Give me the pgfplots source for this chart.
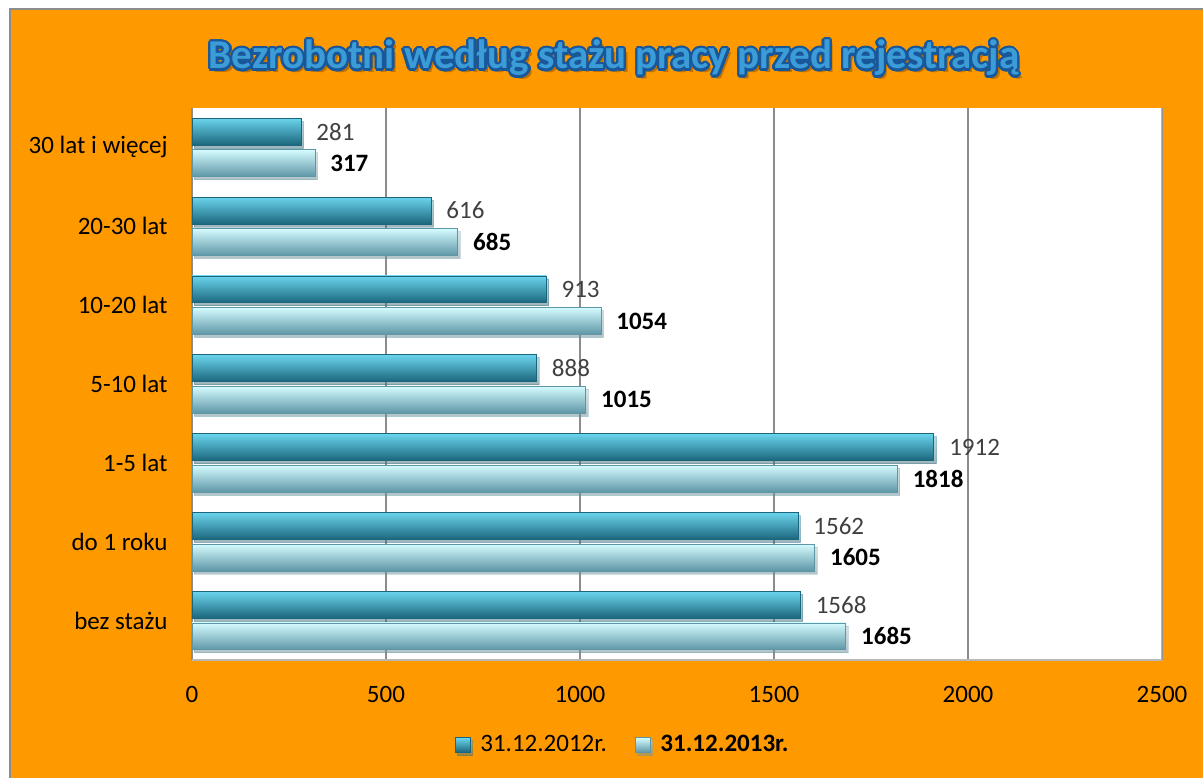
\documentclass[border=0pt]{standalone}
\usepackage{pgfplots}
\pgfplotsset{compat=1.18}
\usetikzlibrary{backgrounds,shadows}
\usepackage{fontspec}
\setmainfont{Carlito}
\definecolor{bgorange}{HTML}{FF9900}
\definecolor{frame}{HTML}{8C8C8C}
\definecolor{titlefill}{HTML}{3C9CD8}
\definecolor{titleline}{HTML}{17579A}
\definecolor{darktop}{HTML}{6AD4EC}
\definecolor{darkmid}{HTML}{2C92AC}
\definecolor{darkbot}{HTML}{1B667C}
\definecolor{lighttop}{HTML}{D4FBFF}
\definecolor{lightmid}{HTML}{A6D9E6}
\definecolor{lightbot}{HTML}{5E96A6}
\definecolor{lbl}{HTML}{404040}
\pgfplotsset{
  darkbar/.style={draw=darkbot, line width=0.4pt, top color=darktop, middle color=darkmid, bottom color=darkbot, bar shift=0.2,
    drop shadow={shadow xshift=1.2pt, shadow yshift=-1.5pt, opacity=0.3},
    nodes near coords style={text=lbl, font=\fontsize{12.5}{14}\selectfont}},
  lightbar/.style={draw=lightbot, line width=0.4pt, top color=lighttop, middle color=lightmid, bottom color=lightbot, bar shift=-0.2,
    drop shadow={shadow xshift=1.2pt, shadow yshift=-1.5pt, opacity=0.3},
    nodes near coords style={text=black, font=\fontsize{12.5}{14}\selectfont\bfseries}},
}
\begin{document}
\begin{tikzpicture}
\begin{axis}[
  scale only axis, width=485pt, height=276pt,
  xbar, bar width=0.34,
  xmin=0, xmax=2500, ymin=-0.5, ymax=6.5,
  xtick={0,500,...,2500},
  ytick={0,...,6},
  yticklabels={bez stażu,do 1 roku,1-5 lat,5-10 lat,10-20 lat,20-30 lat,30 lat i więcej},
  xmajorgrids, major grid style={draw=black!45, line width=0.6pt},
  axis background/.style={fill=white},
  axis line style={draw=none},
  major tick length=0pt,
  tick label style={font=\fontsize{12.5}{14}\selectfont, text=black},
  /pgf/number format/assume math mode=true,
  /pgf/number format/.cd, fixed, precision=0, 1000 sep={},
  /pgfplots/.cd,
  yticklabel style={anchor=east, inner sep=0pt, xshift=-12pt},
  xticklabel style={anchor=north, inner sep=0pt, yshift=-13pt},
  nodes near coords,
  nodes near coords align={horizontal},
  every node near coord/.append style={anchor=west, inner sep=0pt, xshift=7.5pt},
  legend style={at={(0.445,-0.154)}, anchor=center, draw=none, fill=none,
    legend columns=2, font=\fontsize{12.5}{14}\selectfont,
    /tikz/every odd column/.append style={column sep=3pt},
    /tikz/every even column/.append style={column sep=12pt}},
  legend cell align=left,
  legend image code/.code={\draw[#1] (0pt,-3.6pt) rectangle (7.4pt,3.6pt);},
]
\addplot[darkbar] coordinates {(1568,0)};
\addlegendentry{31.12.2012r.}
\addplot[lightbar] coordinates {(1685,0)};
\addlegendentry{\textbf{31.12.2013r.}}
\addplot[darkbar, forget plot] coordinates {(1562,1)};
\addplot[darkbar, forget plot] coordinates {(1912,2)};
\addplot[darkbar, forget plot] coordinates {(888,3)};
\addplot[darkbar, forget plot] coordinates {(913,4)};
\addplot[darkbar, forget plot] coordinates {(616,5)};
\addplot[darkbar, forget plot] coordinates {(281,6)};
\addplot[lightbar, forget plot] coordinates {(1605,1)};
\addplot[lightbar, forget plot] coordinates {(1818,2)};
\addplot[lightbar, forget plot] coordinates {(1015,3)};
\addplot[lightbar, forget plot] coordinates {(1054,4)};
\addplot[lightbar, forget plot] coordinates {(685,5)};
\addplot[lightbar, forget plot] coordinates {(317,6)};
\draw[black!28, line width=1pt] (rel axis cs:0,0) -- (rel axis cs:1,0) -- (rel axis cs:1,1);
\coordinate (SW) at (rel axis cs:0,0);
\end{axis}
\begin{scope}[shift={(SW)}, x=1pt, y=1pt, shift={(-96,-59)}]
\begin{pgfonlayer}{background}
\fill[white] (0,0) rectangle (601.5,389);
\fill[bgorange] (4.5,0) rectangle (601.5,385);
\draw[frame,line width=1pt] (5,0) -- (5,384.5) -- (601.5,384.5);
\end{pgfonlayer}
\def\titletext{\fontsize{20.5}{23}\selectfont\bfseries Bezrobotni według stażu pracy przed rejestracją}
\node[text=black,opacity=0.25] at (308.8,358.3) {\titletext};
\foreach \a in {0,22.5,...,337.5}{
  \node[text=titleline] at ([shift={(\a:1.2pt)}]307,360) {\titletext};
}
\node[text=titlefill] at (307,360) {\titletext};
\pgfresetboundingbox
\useasboundingbox (0,0) rectangle (601.5,389);
\end{scope}
\end{tikzpicture}
\end{document}
